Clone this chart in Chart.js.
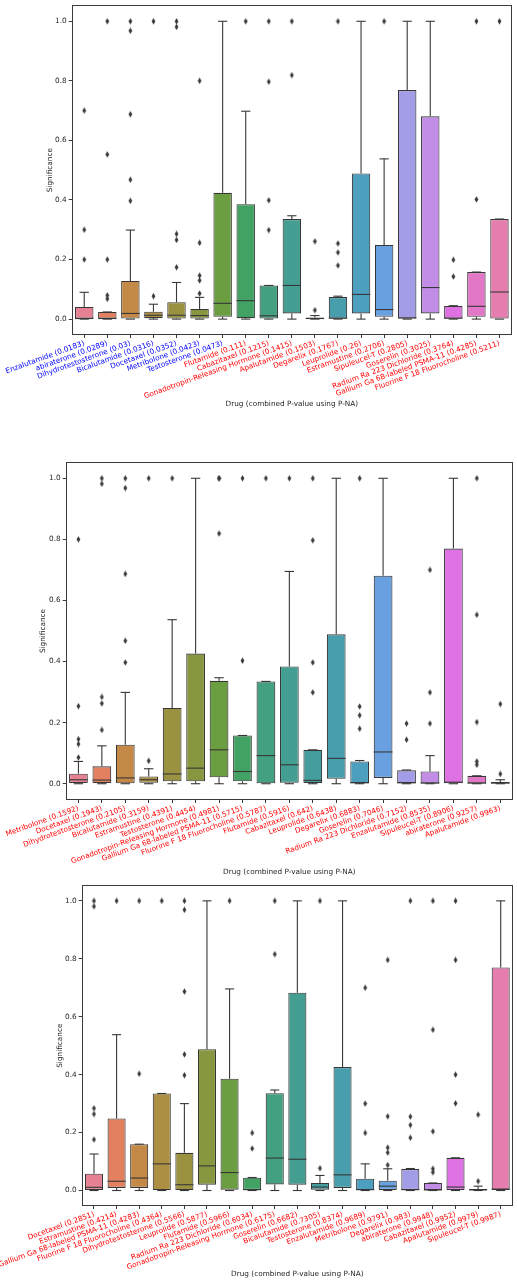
<!DOCTYPE html>
<html><head><meta charset="utf-8">
<script src="https://cdn.jsdelivr.net/npm/chart.js@4.4.1/dist/chart.umd.min.js"></script>
<style>
html,body{margin:0;padding:0;background:#fff;}
body{width:517px;height:1280px;position:relative;overflow:hidden;}
canvas{position:absolute;left:0;}
</style></head><body>
<canvas id="c1" width="517" height="420" style="top:0px"></canvas>
<canvas id="c2" width="517" height="440" style="top:440px"></canvas>
<canvas id="c3" width="517" height="400" style="top:880px"></canvas>
<script>
// ---------------- DATA ----------------
const yTicks = [0.0, 0.2, 0.4, 0.6, 0.8, 1.0];
const xTitle = 'Drug (combined P-value using P-NA)';
const yTitle = 'Significance';

// Panel 1
const names1 = ['Enzalutamide','abiraterone','Dihydrotestosterone','Bicalutamide','Docetaxel','Metribolone','Testosterone','Flutamide','Cabazitaxel','Gonadotropin-Releasing Hormone','Apalutamide','Degarelix','Leuprolide','Estramustine','Sipuleucel-T','Goserelin','Radium Ra 223 Dichloride','Gallium Ga 68-labeled PSMA-11','Fluorine F 18 Fluorocholine'];
const pvals1 = [0.0183,0.0289,0.03,0.0316,0.0352,0.0423,0.0473,0.111,0.1215,0.1415,0.1503,0.1767,0.26,0.2706,0.2805,0.3025,0.3764,0.4285,0.5211];
const lo1  = [0,0,0,0,0,0,0,0,0,0,0,0,0,0,0,0,0,0,0];
const q1_1 = [0,0,0,0.003,0.002,0.002,0.008,0.003,0.002,0.019,0,0.002,0.019,0.008,0,0.019,0.002,0.008,0];
const med1 = [0.002,0.002,0.019,0.013,0.013,0.012,0.053,0.062,0.011,0.113,0.002,0.003,0.083,0.032,0.004,0.106,0.003,0.043,0.091];
const q3_1 = [0.041,0.024,0.128,0.025,0.057,0.034,0.424,0.386,0.113,0.336,0.005,0.074,0.489,0.249,0.769,0.681,0.044,0.158,0.336];
const hi1  = [0.09,0.024,0.299,0.05,0.123,0.073,1.0,0.698,0.113,0.347,0.012,0.077,1.0,0.538,1.0,1.0,0.045,0.158,0.336];
const out1 = [[0.2,0.3,0.7],[0.068,0.08,0.2,0.553,1.0],[0.397,0.468,0.688,0.968,1.0],[0.077,1.0],[0.174,0.266,0.286,0.981,1.0],[0.086,0.13,0.146,0.256,0.8],[],[1.0],[0.299,0.399,0.797,1.0],[0.819,1.0],[0.03,0.261],[0.18,0.224,0.254,1.0],[],[1.0],[],[],[0.143,0.199],[0.402,1.0],[1.0]];

// Panel 2
const names2 = ['Metribolone','Docetaxel','Dihydrotestosterone','Bicalutamide','Estramustine','Testosterone','Gonadotropin-Releasing Hormone','Gallium Ga 68-labeled PSMA-11','Fluorine F 18 Fluorocholine','Flutamide','Cabazitaxel','Leuprolide','Degarelix','Goserelin','Radium Ra 223 Dichloride','Enzalutamide','Sipuleucel-T','abiraterone','Apalutamide'];
const pvals2 = [0.1592,0.1943,0.2105,0.3159,0.4391,0.4454,0.4981,0.5715,0.5787,0.5916,0.642,0.6438,0.6883,0.7046,0.7152,0.8535,0.8906,0.9257,0.9963];
const lo2  = [0,0,0,0,0,0,0,0,0,0,0,0,0,0,0,0,0,0,0];
const q1_2 = [0.002,0.002,0,0.003,0.008,0.008,0.021,0.008,0,0.003,0.002,0.016,0.002,0.019,0.002,0,0,0,0];
const med2 = [0.013,0.012,0.019,0.013,0.032,0.051,0.111,0.04,0.092,0.062,0.011,0.083,0.003,0.104,0.003,0.002,0.005,0.002,0.002];
const q3_2 = [0.033,0.057,0.128,0.024,0.248,0.426,0.337,0.158,0.335,0.384,0.111,0.489,0.073,0.681,0.044,0.04,0.77,0.026,0.006];
const hi2  = [0.073,0.124,0.299,0.049,0.537,1.0,0.347,0.158,0.335,0.695,0.111,1.0,0.076,1.0,0.045,0.092,1.0,0.026,0.013];
const out2 = [[0.086,0.13,0.146,0.254,0.8],[0.176,0.263,0.284,0.982,1.0],[0.397,0.468,0.687,0.968,1.0],[0.075,1.0],[1.0],[],[0.819,1.0,1.0],[0.403,1.0],[1.0],[1.0],[0.299,0.397,0.797,1.0],[],[0.18,0.224,0.253,1.0],[],[0.144,0.197],[0.197,0.299,0.70],[],[0.062,0.073,0.202,0.553,1.0],[0.032,0.261]];

// Panel 3
const names3 = ['Docetaxel','Estramustine','Gallium Ga 68-labeled PSMA-11','Fluorine F 18 Fluorocholine','Dihydrotestosterone','Leuprolide','Flutamide','Radium Ra 223 Dichloride','Gonadotropin-Releasing Hormone','Goserelin','Bicalutamide','Testosterone','Enzalutamide','Metribolone','Degarelix','abiraterone','Cabazitaxel','Apalutamide','Sipuleucel-T'];
const pvals3 = [0.2851,0.4214,0.4283,0.4364,0.5566,0.5877,0.5966,0.6034,0.6175,0.6682,0.7305,0.8374,0.9689,0.9791,0.983,0.9948,0.9952,0.9979,0.9987];
const lo3  = [0,0,0,0,0,0,0,0,0,0,0,0,0,0,0,0,0,0,0];
const q1_3 = [0.002,0.009,0.009,0,0,0.02,0.003,0.002,0.021,0.02,0.003,0.009,0,0.002,0.002,0,0.002,0,0];
const med3 = [0.011,0.032,0.043,0.092,0.02,0.085,0.062,0.003,0.112,0.108,0.012,0.054,0.003,0.015,0.003,0.002,0.012,0.002,0.005];
const q3_3 = [0.058,0.249,0.16,0.335,0.13,0.488,0.386,0.044,0.336,0.683,0.026,0.426,0.041,0.034,0.074,0.026,0.113,0.005,0.77];
const hi3  = [0.126,0.538,0.16,0.335,0.30,1.0,0.696,0.045,0.347,1.0,0.052,1.0,0.092,0.075,0.076,0.026,0.113,0.015,1.0];
const out3 = [[0.176,0.264,0.284,0.981,1.0],[1.0],[0.403,1.0],[1.0],[0.398,0.47,0.687,0.969,1.0],[],[1.0],[0.145,0.199],[0.816,1.0],[],[0.077,1.0],[],[0.199,0.30,0.70],[0.088,0.131,0.148,0.256,0.796],[0.182,0.226,0.255,1.0],[0.063,0.075,0.204,0.555,1.0],[0.301,0.40,0.796,1.0],[0.032,0.262],[]];

// ---------------- COLOURS (seaborn husl palette, desaturated 0.75) ----------------
const MM = [[3.2406,-1.5372,-0.4986],[-0.9689,1.8758,0.0415],[0.0557,-0.2040,1.0570]];
function maxChroma(L,H){
  const hr=H*Math.PI/180, s=Math.sin(hr), c=Math.cos(hr);
  const sub1=Math.pow(L+16,3)/1560896; const sub2 = sub1>0.008856?sub1:L/903.3;
  let res=Infinity;
  for (const r of MM){
    const top=(0.99915*r[0]+1.05122*r[1]+1.14460*r[2])*sub2;
    const rb=0.86330*r[2]-0.17266*r[1], lb=0.12949*r[2]-0.38848*r[0];
    const bottom=(rb*s+lb*c)*sub2;
    for (const t of [0,1]){ const C=L*(top-1.05122*t)/(bottom+0.17266*s*t); if(C>0&&C<res)res=C; }
  }
  return res;
}
function huslToRgb(H,S,L){
  const C=maxChroma(L,H)/100*S; const hr=H*Math.PI/180;
  const U=Math.cos(hr)*C, V=Math.sin(hr)*C;
  const t=(L+16)/116; const varY = t*t*t>0.008856 ? t*t*t : (116*t-16)/903.3;
  const varU=U/(13*L)+0.19784, varV=V/(13*L)+0.46834;
  const Y=varY; const X=-(9*Y*varU)/((varU-4)*varV-varU*varV); const Z=(9*Y-15*varV*Y-varV*X)/(3*varV);
  return MM.map(r=>{const c=r[0]*X+r[1]*Y+r[2]*Z; const v=c<=0.0031308?12.92*c:1.055*Math.pow(c,1/2.4)-0.055; return Math.min(1,Math.max(0,v));});
}
function rgbToHls(r,g,b){
  const mx=Math.max(r,g,b), mn=Math.min(r,g,b), l=(mx+mn)/2;
  if(mx===mn) return [0,l,0];
  const rg=mx-mn; const s = l<=0.5 ? rg/(mx+mn) : rg/(2-mx-mn);
  const rc=(mx-r)/rg, gc=(mx-g)/rg, bc=(mx-b)/rg;
  let h = r===mx ? bc-gc : (g===mx ? 2+rc-bc : 4+gc-rc);
  h=((h/6)%1+1)%1; return [h,l,s];
}
function hlsToRgb(h,l,s){
  if(s===0) return [l,l,l];
  const m2 = l<=0.5 ? l*(1+s) : l+s-l*s, m1=2*l-m2;
  const v=(hue)=>{hue=((hue%1)+1)%1; if(hue<1/6) return m1+(m2-m1)*hue*6; if(hue<0.5) return m2; if(hue<2/3) return m1+(m2-m1)*(2/3-hue)*6; return m1;};
  return [v(h+1/3),v(h),v(h-1/3)];
}
function boxPalette(n){
  const cols=[];
  for(let i=0;i<n;i++){
    const h=((i/n)+0.01)%1*359;
    const rgb=huslToRgb(h,0.9*99,0.65*99);
    const hls=rgbToHls(...rgb);
    cols.push(hlsToRgb(hls[0],hls[1],hls[2]*0.75));
  }
  return cols;
}
const palRgb = boxPalette(19);
const toCss = c => 'rgb(' + c.map(v=>Math.round(v*255)).join(',') + ')';
const boxColors = palRgb.map(toCss);
const lum = Math.min(...palRgb.map(c=>rgbToHls(...c)[1]))*0.6;
const gray = toCss([lum*0.85,lum*0.85,lum*0.85]);

function diamondImg(){
  const c=document.createElement('canvas'); c.width=5; c.height=7;
  const g=c.getContext('2d'); g.fillStyle=gray;
  g.beginPath(); g.moveTo(2.5,0.3); g.lineTo(4.4,3.5); g.lineTo(2.5,6.7); g.lineTo(0.6,3.5); g.closePath(); g.fill();
  return c;
}
const diamond = diamondImg();

Chart.defaults.font.family = "'DejaVu Sans', sans-serif";
Chart.defaults.font.size = 7.3;
Chart.defaults.color = '#262626';

function makePanel(id, geo, names, pvals, lo, q1, med, q3, hi, outs){
  const labels = names.map((n,i)=> n + ' (' + pvals[i] + ')');
  const labelColors = pvals.map(p => p < 0.05 ? '#0000ff' : '#ff0000');
  const outPts = [];
  outs.forEach((arr,i)=>arr.forEach(v=>outPts.push({x:labels[i],y:v})));
  const extras = {
    id:'boxExtras'+id,
    afterDatasetsDraw(chart){
      const ctx=chart.ctx, ys=chart.scales.y, meta=chart.getDatasetMeta(0);
      ctx.save(); ctx.strokeStyle=gray; ctx.lineWidth=1.1;
      meta.data.forEach((bar,i)=>{
        const cx=bar.x, w=bar.width;
        const line=(x1,y1,x2,y2)=>{ctx.beginPath();ctx.moveTo(x1,y1);ctx.lineTo(x2,y2);ctx.stroke();};
        line(cx, ys.getPixelForValue(q3[i]), cx, ys.getPixelForValue(hi[i]));
        line(cx, ys.getPixelForValue(q1[i]), cx, ys.getPixelForValue(lo[i]));
        line(cx-w/4, ys.getPixelForValue(hi[i]), cx+w/4, ys.getPixelForValue(hi[i]));
        line(cx-w/4, ys.getPixelForValue(lo[i]), cx+w/4, ys.getPixelForValue(lo[i]));
        line(cx-w/2, ys.getPixelForValue(med[i]), cx+w/2, ys.getPixelForValue(med[i]));
      });
      ctx.restore();
    },
    afterDraw(chart){
      const a=chart.chartArea, ctx=chart.ctx;
      ctx.save(); ctx.strokeStyle='#3a3a3a'; ctx.lineWidth=1;
      ctx.strokeRect(Math.round(a.left)-0.5, Math.round(a.top)-0.5, Math.round(a.right-a.left)+1, Math.round(a.bottom-a.top)+1);
      ctx.restore();
    }
  };
  return new Chart(document.getElementById(id), {
    type:'bar',
    data:{
      labels,
      datasets:[
        {type:'bar', data:q1.map((v,i)=>[v,q3[i]]), backgroundColor:boxColors, borderColor:gray, borderWidth:1.1, borderSkipped:false, barPercentage:0.8, categoryPercentage:1.0, order:2},
        {type:'line', data:outPts, showLine:false, pointStyle:diamond, pointRadius:3, borderColor:gray, backgroundColor:gray, order:1}
      ]
    },
    options:{
      responsive:false, animation:false,
      layout:{padding:{top:geo.top, right:geo.right, left:0, bottom:geo.bottom}},
      plugins:{legend:{display:false}, tooltip:{enabled:false}},
      scales:{
        x:{
          type:'category', offset:true,
          grid:{display:true, drawOnChartArea:false, drawTicks:true, tickLength:4, color:'#3a3a3a', offset:false},
          border:{display:false},
          ticks:{autoSkip:false, minRotation:20, maxRotation:20, padding:1, color:(c)=>labelColors[c.index], font:{size:7.3}},
          title:{display:true, text:xTitle, color:'#262626', font:{size:7.3}, padding:{top:0,bottom:geo.tpad}},
          afterFit:(ax)=>{ax.height=geo.xh;}
        },
        y:{
          min:-0.05, max:1.05,
          afterBuildTicks:(ax)=>{ax.ticks=yTicks.map(v=>({value:v}));},
          grid:{display:true, drawOnChartArea:false, drawTicks:true, tickLength:4, color:'#3a3a3a'},
          border:{display:false},
          ticks:{padding:2, color:'#262626', callback:(v)=>Number(v).toFixed(1), font:{size:7.3}},
          title:{display:true, text:yTitle, color:'#262626', font:{size:7.3}, padding:{top:geo.ytp, bottom:0}},
          afterFit:(ax)=>{ax.width=geo.yw;}
        }
      }
    },
    plugins:[extras]
  });
}

makePanel('c1', {top:4, right:6, bottom:8, xh:78, tpad:4, yw:72.7, ytp:46}, names1, pvals1, lo1, q1_1, med1, q3_1, hi1, out1);
makePanel('c2', {top:23, right:4, bottom:0, xh:81, tpad:4, yw:66.7, ytp:39}, names2, pvals2, lo2, q1_2, med2, q3_2, hi2, out2);
makePanel('c3', {top:2, right:4.3, bottom:0, xh:75, tpad:2, yw:82.7, ytp:56}, names3, pvals3, lo3, q1_3, med3, q3_3, hi3, out3);
</script></body></html>
